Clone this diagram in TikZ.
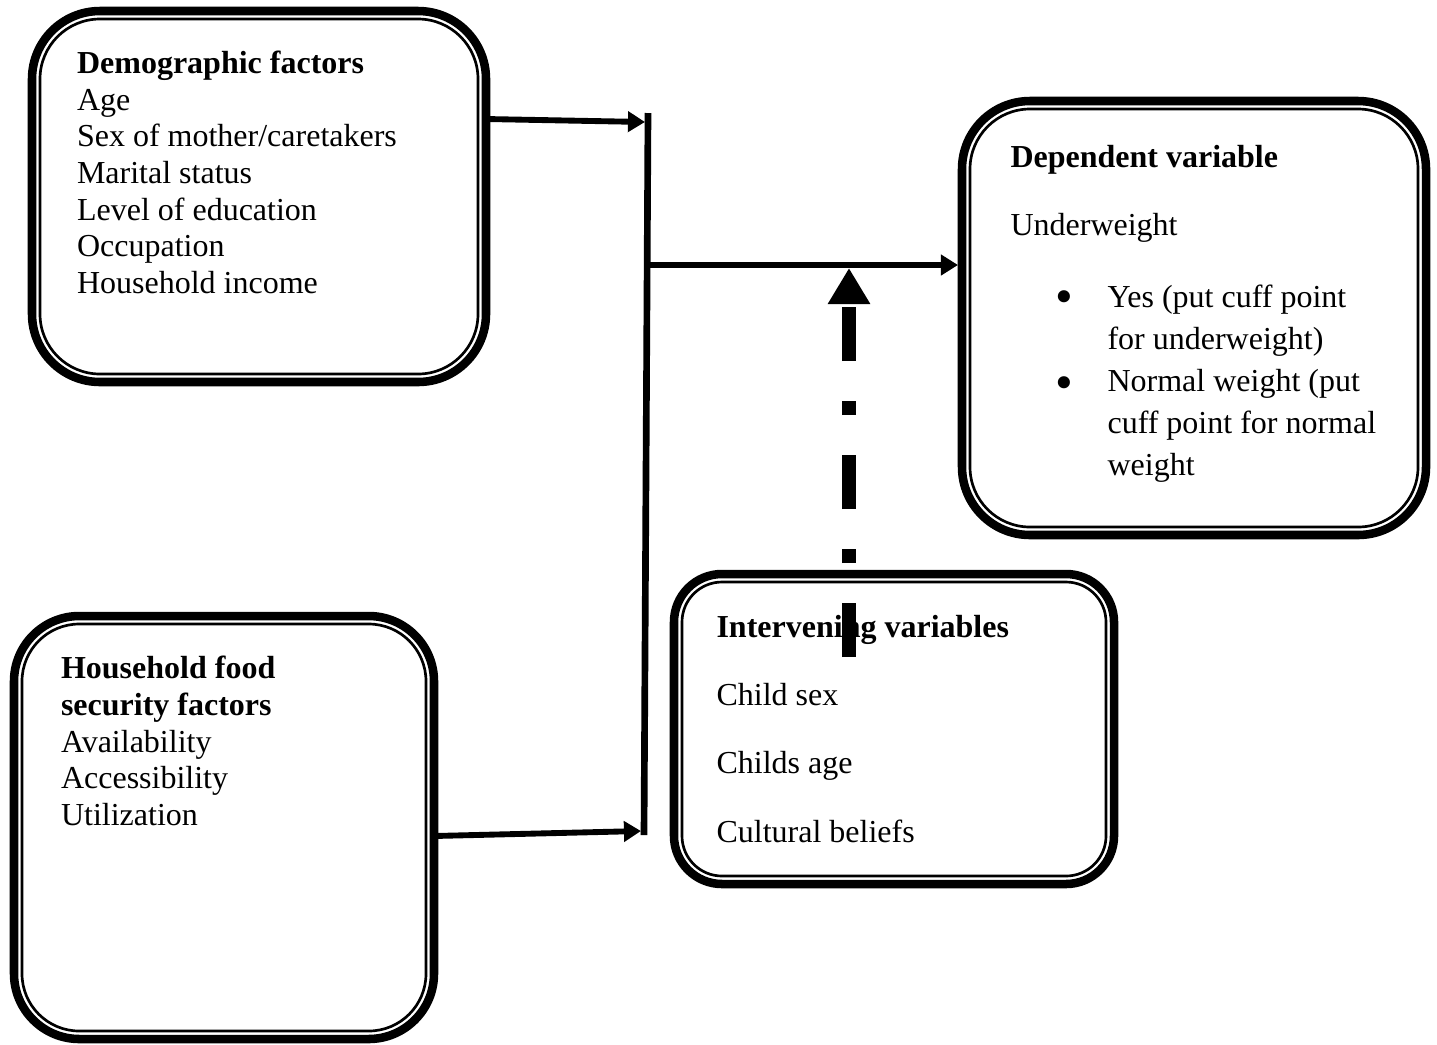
\documentclass[tikz,border=0pt]{standalone}
\usepackage{fontspec}
\setmainfont{Liberation Serif}
\usetikzlibrary{arrows.meta,calc}
\begin{document}
\begin{tikzpicture}[x=0.375pt,y=-0.375pt,
  box/.style={draw, line width=3.2pt, inner sep=0pt, outer sep=0pt, rectangle},
  innerline/.style={line width=1pt},
  txt/.style={anchor=base west, inner sep=0pt, font=\fontsize{12}{13.8}\selectfont},
  bftxt/.style={anchor=base west, inner sep=0pt, font=\fontsize{12}{13.8}\selectfont\bfseries},
  bul/.style={anchor=center, inner sep=0pt, font=\fontsize{19}{20}\selectfont},
  arr/.style={line width=2.2pt, -{Triangle[length=6.4pt,width=7.5pt]}},
  barline/.style={line width=2.5pt},
  dasharr/.style={line width=5.25pt, dash pattern=on 20.25pt off 15pt on 5.25pt off 15pt,
    -{Triangle[length=13.5pt,width=15pt]}}]
\useasboundingbox (0,0) rectangle (1437,1044);

% boxes
\node[box, rounded corners=25.5pt, minimum width=170.25pt, minimum height=139.125pt] (B1) at (259,196.5) {};
\draw[innerline, rounded corners=22.5pt] ([shift={(3pt,-3pt)}]B1.north west) rectangle ([shift={(-3pt,3pt)}]B1.south east);

\node[box, rounded corners=25.5pt, minimum width=174pt, minimum height=162.75pt] (B2) at (1194,318) {};
\draw[innerline, rounded corners=22.5pt] ([shift={(3pt,-3pt)}]B2.north west) rectangle ([shift={(-3pt,3pt)}]B2.south east);

\node[box, rounded corners=18pt, minimum width=165pt, minimum height=116.25pt] (B3) at (894,729) {};
\draw[innerline, rounded corners=15pt] ([shift={(3pt,-3pt)}]B3.north west) rectangle ([shift={(-3pt,3pt)}]B3.south east);

\node[box, rounded corners=24.5pt, minimum width=157.5pt, minimum height=158.625pt] (B4) at (224,827.5) {};
\draw[innerline, rounded corners=21.5pt] ([shift={(3pt,-3pt)}]B4.north west) rectangle ([shift={(-3pt,3pt)}]B4.south east);

% texts box 1
\node[bftxt] (t10) at (76.5,73) {Demographic factors};
\node[txt] (t11) at (76.5,110) {Age};
\node[txt] (t12) at (76.5,146.7) {Sex of mother/caretakers};
\node[txt] (t13) at (76.5,183.4) {Marital status};
\node[txt] (t14) at (76.5,220) {Level of education};
\node[txt] (t15) at (76.5,256.8) {Occupation};
\node[txt] (t16) at (76.5,293.5) {Household income};

% texts box 2
\node[bftxt] (t20) at (1010,167) {Dependent variable};
\node[txt] (t21) at (1010,235) {Underweight};
\node[bul] (b1) at (1064,302) {•};
\node[bul] (b2) at (1064,388) {•};
\node[txt] (t22) at (1107,307) {Yes (put cuff point};
\node[txt] (t23) at (1107,349) {for underweight)};
\node[txt] (t24) at (1107,391) {Normal weight (put};
\node[txt] (t25) at (1107,433) {cuff point for normal};
\node[txt] (t26) at (1107,475) {weight};

% texts box 3
\node[bftxt] (t30) at (716,637) {Intervening variables};
\node[txt] (t31) at (716,705) {Child sex};
\node[txt] (t32) at (716,773) {Childs age};
\node[txt] (t33) at (716,842) {Cultural beliefs};

% texts box 4
\node[bftxt] (t40) at (60.5,678) {Household food};
\node[bftxt] (t41) at (60.5,715) {security factors};
\node[txt] (t42) at (60.5,752) {Availability};
\node[txt] (t43) at (60.5,788.5) {Accessibility};
\node[txt] (t44) at (60.5,825) {Utilization};

% connectors
\coordinate (vt) at (648,113);
\coordinate (vb) at (644,835);
\coordinate (j1) at (645,122);
\coordinate (j2) at (648,265);
\coordinate (j4) at (641,831);
\coordinate (d0) at (849,657);
\coordinate (d1) at (849,268);

\draw[barline] (vt) -- (vb);
\draw[arr] (B1.east |- 0,119) -- (j1);
\draw[arr] (B4.east |- 0,836) -- (j4);
\draw[arr] (j2) -- ($(B2.west |- j2)+(-4,0)$);
\draw[dasharr] (d0) -- (d1);
\end{tikzpicture}
\end{document}
